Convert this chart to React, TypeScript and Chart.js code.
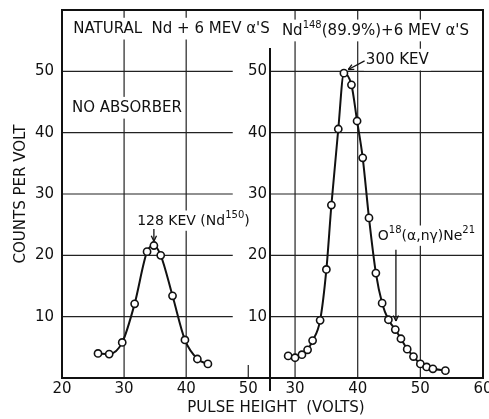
import React, { useEffect, useRef } from "react";
import { Chart, registerables } from "chart.js";
Chart.register(...registerables);

// Left panel: natural Nd, no absorber
const leftVolts = [25.8, 27.6, 29.7, 31.7, 33.7, 34.8, 35.9, 37.8, 39.8, 41.8, 43.5];
const leftCounts = [4.0, 3.9, 5.8, 12.1, 20.6, 21.6, 20.0, 13.4, 6.2, 3.1, 2.3];
// Right panel: Nd148 (89.9%)
const rightVolts = [28.9, 30, 31.1, 32, 32.8, 34, 35, 35.8, 36.9, 37.8, 39, 39.9, 40.8, 41.8, 42.9, 43.9, 44.9, 46, 46.9, 47.9, 48.9, 50, 51, 52, 54];
const rightCounts = [3.6, 3.3, 3.8, 4.6, 6.1, 9.4, 17.7, 28.2, 40.6, 49.7, 47.8, 41.9, 35.9, 26.1, 17.1, 12.2, 9.5, 7.9, 6.4, 4.7, 3.5, 2.3, 1.8, 1.5, 1.2];

const leftXTicks = [20, 30, 40, 50];
const rightXTicks = [30, 40, 50, 60];
const yTicks = [10, 20, 30, 40, 50];
const leftGridX = [30, 40];
const rightGridX = [30, 40, 50];

const FONT = "DejaVu Sans";
const INK = "#111";
const W = 489;
const H = 419;

type Seg = { t: string; sup?: boolean };

function drawRich(ctx: CanvasRenderingContext2D, segs: Seg[], x: number, y: number, size: number, bg: boolean) {
  ctx.save();
  ctx.textBaseline = "middle";
  ctx.textAlign = "left";
  const supSize = Math.round(size * 0.68);
  const widths = segs.map((s) => {
    ctx.font = `${s.sup ? supSize : size}px "${FONT}"`;
    return ctx.measureText(s.t).width;
  });
  const total = widths.reduce((a, b) => a + b, 0);
  if (bg) {
    ctx.fillStyle = "#fff";
    ctx.fillRect(x - 2, y - size * 0.75, total + 4, size * 1.45);
  }
  ctx.fillStyle = INK;
  let cx = x;
  segs.forEach((s, i) => {
    ctx.font = `${s.sup ? supSize : size}px "${FONT}"`;
    ctx.fillText(s.t, cx, s.sup ? y - size * 0.38 : y);
    cx += widths[i];
  });
  ctx.restore();
}

function line(ctx: CanvasRenderingContext2D, x1: number, y1: number, x2: number, y2: number) {
  ctx.beginPath();
  ctx.moveTo(x1, y1);
  ctx.lineTo(x2, y2);
  ctx.stroke();
}

function arrow(ctx: CanvasRenderingContext2D, x1: number, y1: number, x2: number, y2: number) {
  ctx.save();
  ctx.strokeStyle = INK;
  ctx.lineWidth = 1.3;
  line(ctx, x1, y1, x2, y2);
  const ang = Math.atan2(y2 - y1, x2 - x1);
  const L = 6;
  line(ctx, x2, y2, x2 - L * Math.cos(ang - 0.45), y2 - L * Math.sin(ang - 0.45));
  line(ctx, x2, y2, x2 - L * Math.cos(ang + 0.45), y2 - L * Math.sin(ang + 0.45));
  ctx.restore();
}

const leftDecor = {
  id: "leftDecor",
  beforeDatasetsDraw(chart: any) {
    const { ctx, chartArea: a, scales } = chart;
    const x = scales.x;
    const y = scales.y;
    ctx.save();
    ctx.strokeStyle = "#222";
    ctx.lineWidth = 1.2;
    const gx1 = x.getPixelForValue(47.5);
    yTicks.forEach((v) => {
      const py = y.getPixelForValue(v);
      line(ctx, a.left, py, gx1, py);
    });
    leftGridX.forEach((v) => {
      const px = x.getPixelForValue(v);
      line(ctx, px, a.top, px, a.bottom);
    });
    const p50 = x.getPixelForValue(50);
    line(ctx, p50, a.bottom - 13, p50, a.bottom);

    drawRich(ctx, [{ t: "NATURAL  Nd + 6 MEV α'S" }], x.getPixelForValue(21.8), y.getPixelForValue(56.9), 15, true);
    drawRich(ctx, [{ t: "NO ABSORBER" }], x.getPixelForValue(21.6), y.getPixelForValue(44.0), 15, true);
    drawRich(ctx, [{ t: "128 KEV (Nd" }, { t: "150", sup: true }, { t: ")" }], x.getPixelForValue(32.1), y.getPixelForValue(25.6), 14, true);
    arrow(ctx, x.getPixelForValue(34.8), y.getPixelForValue(24.3), x.getPixelForValue(34.8), y.getPixelForValue(22.3));

    ctx.strokeStyle = INK;
    ctx.lineWidth = 2;
    line(ctx, a.left, a.top, a.right, a.top);
    line(ctx, a.left, a.bottom, a.right, a.bottom);
    line(ctx, a.left, a.top - 1, a.left, a.bottom + 1);
    ctx.restore();
  },
};

const rightDecor = {
  id: "rightDecor",
  beforeDatasetsDraw(chart: any) {
    const { ctx, chartArea: a, scales } = chart;
    const x = scales.x;
    const y = scales.y;
    ctx.save();
    ctx.strokeStyle = "#222";
    ctx.lineWidth = 1.2;
    yTicks.forEach((v) => {
      const py = y.getPixelForValue(v);
      line(ctx, a.left, py, a.right, py);
    });
    rightGridX.forEach((v) => {
      const px = x.getPixelForValue(v);
      line(ctx, px, a.top, px, a.bottom);
    });

    drawRich(ctx, [{ t: "Nd" }, { t: "148", sup: true }, { t: "(89.9%)+6 MEV α'S" }], x.getPixelForValue(27.9), y.getPixelForValue(56.6), 15, true);
    drawRich(ctx, [{ t: "300 KEV" }], x.getPixelForValue(41.3), y.getPixelForValue(51.85), 15, true);
    arrow(ctx, x.getPixelForValue(41.1), y.getPixelForValue(51.7), x.getPixelForValue(38.5), y.getPixelForValue(50.3));
    drawRich(ctx, [{ t: "O" }, { t: "18", sup: true }, { t: "(α,nγ)Ne" }, { t: "21", sup: true }], x.getPixelForValue(43.2), y.getPixelForValue(23.15), 14, true);
    arrow(ctx, x.getPixelForValue(46.1), y.getPixelForValue(20.9), x.getPixelForValue(46.1), y.getPixelForValue(9.3));

    ctx.strokeStyle = INK;
    ctx.lineWidth = 2;
    line(ctx, a.left, a.top, a.right, a.top);
    line(ctx, a.left, a.bottom, a.right, a.bottom);
    line(ctx, a.right, a.top - 1, a.right, a.bottom + 1);
    line(ctx, a.left, y.getPixelForValue(53.8), a.left, a.bottom + 13);
    ctx.restore();
  },
  afterDraw(chart: any) {
    const { ctx } = chart;
    ctx.save();
    ctx.fillStyle = INK;
    ctx.font = `15px "${FONT}"`;
    ctx.textAlign = "center";
    ctx.textBaseline = "middle";
    ctx.fillText("PULSE HEIGHT  (VOLTS)", 276, 408);
    ctx.restore();
  },
};

function makeConfig(
  volts: number[],
  counts: number[],
  xMin: number,
  xMax: number,
  xTicks: number[],
  yWidth: number,
  yPad: number,
  padLeft: number,
  padRight: number,
  showYTitle: boolean,
  plugin: any
): any {
  return {
    type: "line",
    data: {
      datasets: [
        {
          data: volts.map((v, i) => ({ x: v, y: counts[i] })),
          borderColor: INK,
          borderWidth: 2,
          pointRadius: 3.6,
          pointBorderWidth: 1.6,
          pointBackgroundColor: "#fff",
          pointBorderColor: INK,
          cubicInterpolationMode: "monotone",
          fill: false,
        },
      ],
    },
    options: {
      responsive: false,
      animation: false,
      devicePixelRatio: 1,
      layout: { padding: { left: padLeft, right: padRight, top: 10, bottom: 0 } },
      plugins: { legend: { display: false }, tooltip: { enabled: false } },
      scales: {
        x: {
          type: "linear",
          min: xMin,
          max: xMax,
          grid: { display: false, drawTicks: false },
          border: { display: false },
          afterBuildTicks: (s: any) => {
            s.ticks = xTicks.map((v) => ({ value: v }));
          },
          ticks: {
            autoSkip: false,
            maxRotation: 0,
            padding: 2,
            color: INK,
            font: { family: FONT, size: 15 },
          },
          afterFit: (s: any) => {
            s.height = 41;
            s.paddingLeft = 0;
            s.paddingRight = 0;
          },
        },
        y: {
          type: "linear",
          min: 0,
          max: 60,
          grid: { display: false, drawTicks: false },
          border: { display: false },
          afterBuildTicks: (s: any) => {
            s.ticks = yTicks.map((v) => ({ value: v }));
          },
          ticks: {
            padding: yPad,
            color: INK,
            font: { family: FONT, size: 15 },
          },
          title: {
            display: showYTitle,
            text: "COUNTS PER VOLT",
            color: INK,
            font: { family: FONT, size: 15 },
            padding: { top: 12, bottom: 0 },
          },
          afterFit: (s: any) => {
            s.width = yWidth;
            s.paddingTop = 0;
            s.paddingBottom = 0;
          },
        },
      },
    },
    plugins: [plugin],
  };
}

export default function App() {
  const leftRef = useRef<HTMLCanvasElement | null>(null);
  const rightRef = useRef<HTMLCanvasElement | null>(null);

  useEffect(() => {
    document.body.style.margin = "0";
    const lc = new Chart(
      leftRef.current as HTMLCanvasElement,
      makeConfig(leftVolts, leftCounts, 20, 53.5, leftXTicks, 62, 8, 0, W - 270, true, leftDecor)
    );
    const rc = new Chart(
      rightRef.current as HTMLCanvasElement,
      makeConfig(rightVolts, rightCounts, 26, 60, rightXTicks, 270, 3, 0, W - 483, false, rightDecor)
    );
    return () => {
      lc.destroy();
      rc.destroy();
    };
  }, []);

  return (
    <div style={{ position: "relative", width: W, height: H, background: "#fff" }}>
      <canvas ref={leftRef} width={W} height={H} style={{ position: "absolute", left: 0, top: 0 }} />
      <canvas ref={rightRef} width={W} height={H} style={{ position: "absolute", left: 0, top: 0 }} />
    </div>
  );
}
